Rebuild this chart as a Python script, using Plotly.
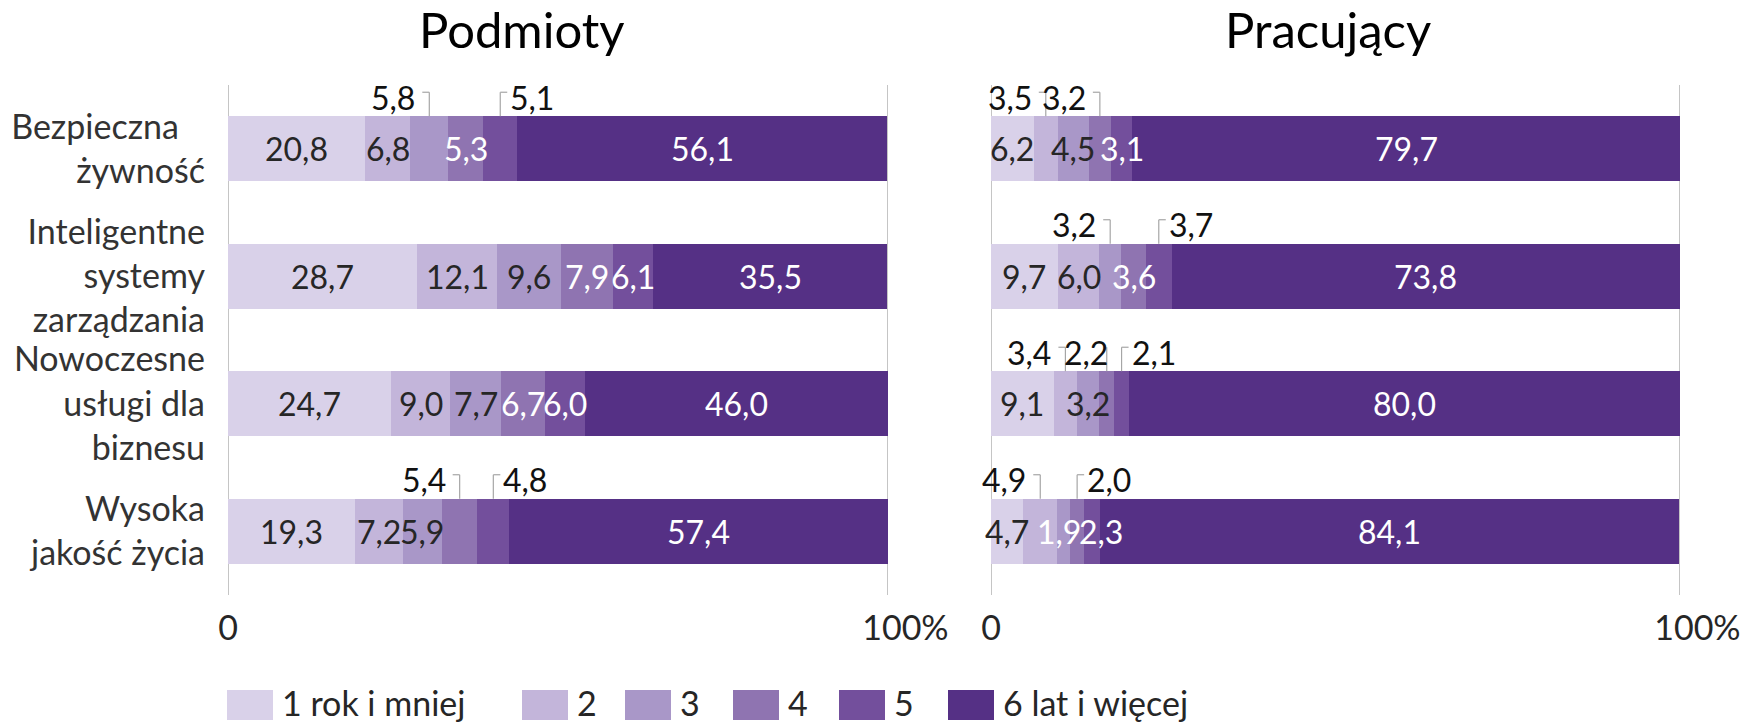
import plotly.graph_objects as go

# ---------------- data ----------------
categories = ["Bezpieczna żywność", "Inteligentne systemy zarządzania",
              "Nowoczesne usługi dla biznesu", "Wysoka jakość życia"]
category_labels = ["Bezpieczna\u00a0\u00a0\u00a0<br>żywność", "Inteligentne<br>systemy<br>zarządzania",
                   "Nowoczesne<br>usługi dla<br>biznesu", "Wysoka<br>jakość życia"]
series_names = ["1 rok i mniej", "2", "3", "4", "5", "6 lat i więcej"]
panel_titles = ["Podmioty", "Pracujący"]
tick_values = [0, 100]
tick_labels = ["0", "100%"]

podmioty_1 = [20.8, 28.7, 24.7, 19.3]
podmioty_2 = [6.8, 12.1, 9.0, 7.2]
podmioty_3 = [5.8, 9.6, 7.7, 5.9]
podmioty_4 = [5.3, 7.9, 6.7, 5.4]
podmioty_5 = [5.1, 6.1, 6.0, 4.8]
podmioty_6 = [56.1, 35.5, 46.0, 57.4]

pracujacy_1 = [6.2, 9.7, 9.1, 4.7]
pracujacy_2 = [3.5, 6.0, 3.4, 4.9]
pracujacy_3 = [4.5, 3.2, 3.2, 1.9]
pracujacy_4 = [3.2, 3.6, 2.2, 2.0]
pracujacy_5 = [3.1, 3.7, 2.1, 2.3]
pracujacy_6 = [79.7, 73.8, 80.0, 84.1]

# labels drawn outside with a leader line: (panel, category index, series index, side)
callouts = [
    (0, 0, 2, "L"), (0, 0, 4, "R"), (0, 3, 3, "L"), (0, 3, 4, "R"),
    (1, 0, 1, "L"), (1, 0, 3, "L"), (1, 1, 2, "L"), (1, 1, 4, "R"),
    (1, 2, 1, "L"), (1, 2, 3, "L"), (1, 2, 4, "R"), (1, 3, 1, "L"), (1, 3, 3, "R"),
]
white_label_exceptions = [(1, 3, 2)]

# ---------------- style ----------------
colors = ["#d9d1e9", "#c3b5da", "#a997c8", "#8f74b1", "#734f9c", "#553085"]
FONT = "Lato"
W, H = 1740, 725
DARK = "#262626"
GRID = "#a6a6a6"
label_nudge = {(1, 3, 2): -5, (1, 3, 4): 9}          # pixel nudges of crowded inside labels
callout_shift = {(1, 2, 3): 3}                        # callout text hugging its leader

panels = [
    [podmioty_1, podmioty_2, podmioty_3, podmioty_4, podmioty_5, podmioty_6],
    [pracujacy_1, pracujacy_2, pracujacy_3, pracujacy_4, pracujacy_5, pracujacy_6],
]
x_domains = [[228 / W, 888 / W], [991 / W, 1680 / W]]
y_domain = [(H - 595) / H, (H - 85) / H]
BAR_W = 0.51

def fmt(v):
    return f"{v:.1f}".replace(".", ",")

fig = go.Figure()
annotations = []
shapes = []
callout_set = {(p, c, s): side for p, c, s, side in callouts}

for p, series in enumerate(panels):
    xa = "x" if p == 0 else "x2"
    ya = "y" if p == 0 else "y2"
    for s, vals in enumerate(series):
        fig.add_trace(go.Bar(
            x=vals, y=categories, orientation="h", name=series_names[s],
            marker=dict(color=colors[s], line=dict(width=0)), width=BAR_W,
            xaxis=xa, yaxis=ya, showlegend=False, hoverinfo="skip"))
    # vertical axis lines at 0 and 100 %
    for tv in tick_values:
        shapes.append(dict(type="line", xref=xa, yref=ya + " domain", x0=tv, x1=tv, y0=0, y1=1,
                           line=dict(color=GRID, width=1.3), layer="below"))
    for c in range(len(categories)):
        cum = 0.0
        for s, vals in enumerate(series):
            v = vals[c]
            center = cum + v / 2
            cum += v
            if (p, c, s) in callout_set:
                side = callout_set[(p, c, s)]
                top = c - BAR_W / 2
                sign = -1 if side == "L" else 1
                shapes.append(dict(type="line", xref=xa, yref=ya, x0=center, x1=center,
                                   ysizemode="pixel", yanchor=top, y0=0, y1=24,
                                   line=dict(color=GRID, width=1.2)))
                if (p, c, s) in callout_shift:
                    xs = callout_shift[(p, c, s)]
                else:
                    xs = -12 if side == "L" else 8
                    shapes.append(dict(type="line", xref=xa, yref=ya, xsizemode="pixel",
                                       xanchor=center, x0=0, x1=sign * 7, ysizemode="pixel",
                                       yanchor=top, y0=24, y1=24,
                                       line=dict(color=GRID, width=1.2)))
                annotations.append(dict(
                    x=center, y=top, xref=xa, yref=ya, text=fmt(v), showarrow=False,
                    xanchor="right" if side == "L" else "left",
                    xshift=xs, yanchor="middle", yshift=19,
                    font=dict(family=FONT, size=32, color="#111111")))
            else:
                white = s >= 3 or (p, c, s) in white_label_exceptions
                annotations.append(dict(
                    x=center, y=categories[c], xref=xa, yref=ya, text=fmt(v), showarrow=False,
                    xanchor="center", yanchor="middle", xshift=label_nudge.get((p, c, s), 0),
                    font=dict(family=FONT, size=32, color="#ffffff" if white else DARK)))

# titles
title_x = [522, 1328]
for p, t in enumerate(panel_titles):
    annotations.append(dict(x=title_x[p] / W, y=(H - 29) / H, xref="paper", yref="paper",
                            text=t, showarrow=False, xanchor="center", yanchor="middle",
                            font=dict(family=FONT, size=49, color="#000000")))

# manual legend
legend_x = [227, 522, 625, 733, 839, 948]
for s, name in enumerate(series_names):
    x0 = legend_x[s]
    shapes.append(dict(type="rect", xref="paper", yref="paper",
                       x0=x0 / W, x1=(x0 + 46) / W, y0=(H - 720) / H, y1=(H - 690) / H,
                       fillcolor=colors[s], line=dict(width=0)))
    annotations.append(dict(x=(x0 + 53) / W, y=(H - 702) / H, xref="paper", yref="paper",
                            text=name, showarrow=False, xanchor="left", yanchor="middle",
                            font=dict(family=FONT, size=34, color=DARK)))

tick_text = [tick_labels[0], "\u00a0" * 4 + tick_labels[1]]
xaxis_common = dict(range=[0, 100], tickmode="array", tickvals=tick_values, ticktext=tick_text,
                    showgrid=False, zeroline=False, showline=False, ticks="",
                    ticklabelstandoff=10, automargin=False, ticklabeloverflow="allow",
                    tickfont=dict(family=FONT, size=34, color=DARK), fixedrange=True)
yaxis_common = dict(range=[3.5, -0.5], type="category", showgrid=False, zeroline=False,
                    showline=False, ticks="", domain=y_domain, fixedrange=True,
                    automargin=False)

fig.update_layout(
    width=W, height=H, barmode="stack", bargap=0.49,
    margin=dict(l=0, r=0, t=0, b=0, autoexpand=False),
    paper_bgcolor="white", plot_bgcolor="white",
    xaxis=dict(domain=x_domains[0], anchor="y", **xaxis_common),
    xaxis2=dict(domain=x_domains[1], anchor="y2", **xaxis_common),
    yaxis=dict(anchor="x", tickmode="array", tickvals=categories, ticktext=category_labels,
               tickfont=dict(family=FONT, size=34, color="#333333"), ticklabelstandoff=22,
               ticklabeloverflow="allow", **yaxis_common),
    yaxis2=dict(anchor="x2", showticklabels=False, **yaxis_common),
    annotations=annotations, shapes=shapes, showlegend=False,
)

fig.write_html("out.html", post_script="document.body.style.margin='0';",
               config={"displayModeBar": False})
